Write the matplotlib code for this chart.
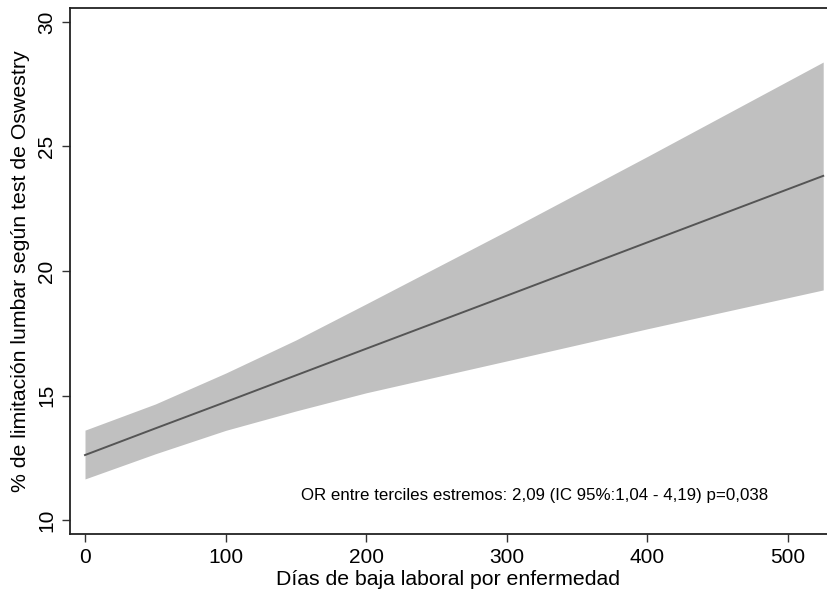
import matplotlib
matplotlib.use("Agg")
import matplotlib.pyplot as plt
import numpy as np

plt.rcParams['font.family'] = ['Liberation Sans', 'DejaVu Sans']

# Data
dias = [0, 50, 100, 150, 200, 300, 400, 525]
pred = [12.61, 13.68, 14.74, 15.81, 16.88, 19.01, 21.15, 23.82]
ci_upper = [13.61, 14.66, 15.90, 17.23, 18.68, 21.61, 24.60, 28.39]
ci_lower = [11.65, 12.66, 13.60, 14.38, 15.11, 16.39, 17.68, 19.24]

xticks = [0, 100, 200, 300, 400, 500]
yticks = [10, 15, 20, 25, 30]
annot = "OR entre terciles estremos: 2,09 (IC 95%:1,04 - 4,19) p=0,038"

fig = plt.figure(figsize=(8.27, 5.93), dpi=100)
ax = fig.add_axes([70/827, 59/593, 757/827, 526/593])

ax.fill_between(dias, ci_lower, ci_upper, color='#c0c0c0', linewidth=0)
ax.plot(dias, pred, color='#555555', linewidth=1.4)

ax.set_xlim(-10.67, 527.7)
ax.set_ylim(9.44, 30.56)
ax.set_xticks(xticks)
ax.set_yticks(yticks)
ax.set_yticklabels([str(v) for v in yticks], rotation=90, va='center')
ax.tick_params(axis='both', labelsize=15, length=6, width=1, color='#333333', pad=4)

for s in ['left', 'bottom', 'top']:
    ax.spines[s].set_linewidth(1.3)
    ax.spines[s].set_color('#222222')
ax.spines['right'].set_visible(False)

ax.set_xlabel("Días de baja laboral por enfermedad", fontsize=15.3, labelpad=2)
ax.set_ylabel("% de limitación lumbar según test de Oswestry", fontsize=15.3, labelpad=5)

ax.text(320, 11.0, annot, ha='center', va='center', fontsize=12.2)

fig.savefig("out.png", dpi=100)
